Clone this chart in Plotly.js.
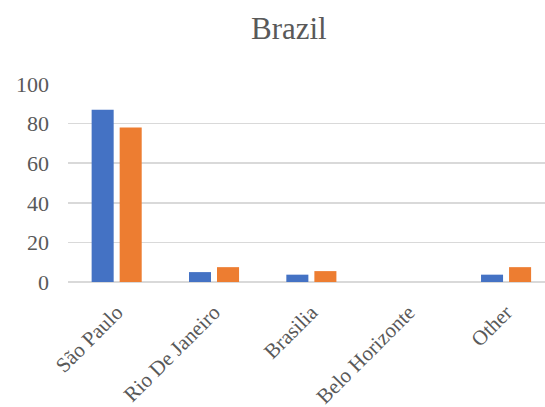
<!DOCTYPE html>
<html>
<head>
<meta charset="utf-8">
<script src="https://cdn.plot.ly/plotly-3.0.1.min.js"></script>
<style>html,body{margin:0;padding:0;background:#fff;}#chart{width:545px;height:407px;}</style>
</head>
<body>
<div id="chart"></div>
<script>
var categories = ["São Paulo", "Rio De Janeiro", "Brasilia", "Belo Horizonte", "Other"];
var series1 = [87, 5, 3.7, 0, 3.7];
var series2 = [78, 7.5, 5.5, 0, 7.5];
var yTicks = [0, 20, 40, 60, 80, 100];

var font = "Liberation Serif";
var traces = [
  {type: "bar", x: categories, y: series1, name: "Series1", marker: {color: "#4472C4"}},
  {type: "bar", x: categories, y: series2, name: "Series2", marker: {color: "#ED7D31"}}
];
var layout = {
  width: 545, height: 407,
  margin: {l: 68, r: 0, t: 84, b: 125},
  paper_bgcolor: "#fff", plot_bgcolor: "#fff",
  font: {family: font, color: "#595959"},
  showlegend: false,
  barmode: "group",
  bargap: 0.424,
  bargroupgap: 0.214,
  title: {text: "Brazil", font: {family: font, size: 31, color: "#595959"}, x: 0.53, xanchor: "center", y: 0.932, yanchor: "middle"},
  xaxis: {
    range: [-0.5, 4.4],
    tickangle: -45,
    tickfont: {family: font, size: 21, color: "#595959"},
    showgrid: false, zeroline: false,
    showline: false,
    ticks: "", ticklabelstandoff: 13
  },
  yaxis: {
    range: [0, 100],
    tickvals: yTicks,
    ticktext: yTicks.map(String),
    tickfont: {family: font, size: 22, color: "#595959"},
    showgrid: true, gridcolor: "#d9d9d9", gridwidth: 1.5,
    zeroline: true, zerolinecolor: "#d9d9d9", zerolinewidth: 1.5,
    showline: false, ticks: "", ticklabelstandoff: 18
  }
};
Plotly.newPlot("chart", traces, layout, {staticPlot: true, displayModeBar: false});
</script>
</body>
</html>
